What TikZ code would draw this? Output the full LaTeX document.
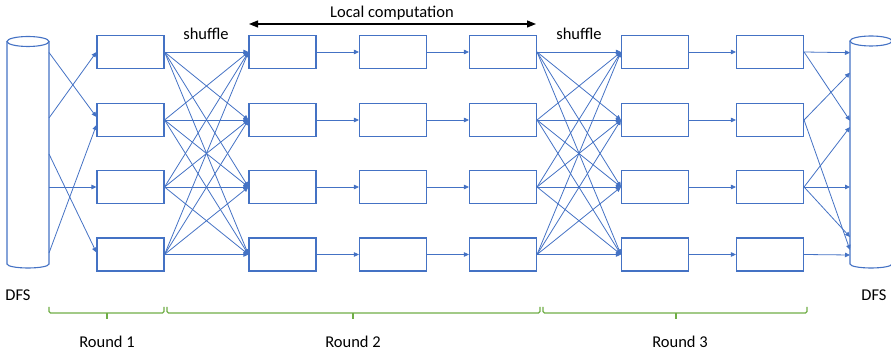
\documentclass[tikz,border=0pt]{standalone}
\usepackage{fontspec}
\setmainfont{Carlito}
\usetikzlibrary{arrows.meta}
\definecolor{lblue}{HTML}{4472C4}
\definecolor{lgreen}{HTML}{70AD47}
\begin{document}
\begin{tikzpicture}[x=1pt,y=-1pt,
  box/.style={draw=lblue, line width=1.1pt, minimum width=67pt, minimum height=33pt, inner sep=0pt},
  link/.style={draw=lblue, line width=0.8pt, -{Triangle[length=5pt,width=4.5pt]}},
  cyl/.style={draw=lblue, line width=1.1pt},
  lbl/.style={font=\fontsize{16.5}{18}\selectfont, text=black, inner sep=0pt},
  brace/.style={draw=lgreen, line width=1.3pt, rounded corners=1.5pt},
  span/.style={draw=black, line width=1.2pt, {Triangle[length=9pt,width=7pt]}-{Triangle[length=9pt,width=7pt]}}]
\useasboundingbox (0,0) rectangle (891,352);
\clip (0,0) rectangle (891,352);
% cylinders
\draw[cyl] (7,41.5) -- (7,264) arc[start angle=180, end angle=360, x radius=21pt, y radius=4pt] -- (49,41.5);
\draw[cyl] (28,41.5) ellipse [x radius=21pt, y radius=5pt];
\draw[cyl] (850,41) -- (850,264) arc[start angle=180, end angle=360, x radius=21pt, y radius=4pt] -- (892,41);
\draw[cyl] (871,41) ellipse [x radius=21pt, y radius=5pt];
\coordinate (L1) at (49,52.5);
\coordinate (L2) at (49,118);
\coordinate (L3) at (49,154);
\coordinate (L4) at (49,187);
\coordinate (L5) at (49,253);
\coordinate (R1) at (850,52.7);
\coordinate (R2) at (850,72.7);
\coordinate (R3) at (850,120.7);
\coordinate (R4) at (850,127);
\coordinate (R5) at (850,187);
\coordinate (R6) at (850,237);
\coordinate (R7) at (850,250);
\coordinate (R8) at (850,255);
% boxes
\foreach \c/\x in {1/130.5,2/282.5,3/393,4/503,5/655,6/770}{
  \foreach \r/\y in {1/52,2/120,3/187,4/254.5}{
    \node[box] (c\c r\r) at (\x,\y) {};
  }
}
% DFS -> round 1
\draw[link] (L1) -- ([yshift=3pt]c1r2.west);
\draw[link] (L2) -- (c1r1.west);
\draw[link] (L3) -- ([yshift=2pt]c1r4.west);
\draw[link] (L4) -- (c1r3.west);
\draw[link] (L5) -- ([yshift=-5pt]c1r2.west);
% shuffles
\foreach \s in {1,2,3,4}{
  \foreach \t in {1,2,3,4}{
    \draw[link] (c1r\s.east) -- (c2r\t.west);
    \draw[link] (c4r\s.east) -- (c5r\t.west);
  }
}
% local
\foreach \r in {1,2,3,4}{
  \draw[link] (c2r\r.east) -- (c3r\r.west);
  \draw[link] (c3r\r.east) -- (c4r\r.west);
  \draw[link] (c5r\r.east) -- (c6r\r.west);
}
% round 3 -> DFS
\draw[link] (c6r1.east) -- (R1);
\draw[link] (c6r1.east) -- (R3);
\draw[link] (c6r2.east) -- (R2);
\draw[link] (c6r2.east) -- (R7);
\draw[link] (c6r3.east) -- (R4);
\draw[link] (c6r3.east) -- (R5);
\draw[link] (c6r3.east) -- (R6);
\draw[link] (c6r4.east) -- (R8);
% labels
\node[lbl] (dfsl) at (18,295) {DFS};
\node[lbl] (dfsr) at (874,295) {DFS};
\node[lbl] (sh1) at (206,33.5) {shuffle};
\node[lbl] (sh2) at (579,33.5) {shuffle};
\node[lbl] (lc) at (392,13.5) {Local computation};
\coordinate (la) at (249,24);
\coordinate (lb) at (536,24);
\draw[span] (la) -- (lb);
% rounds
\draw[brace] (49,307) -- (49,313) -- (164,313) -- (164,307);
\draw[brace] (107,313) -- (107,319.5);
\draw[brace] (167,307) -- (167,313) -- (540,313) -- (540,307);
\draw[brace] (353,313) -- (353,319.5);
\draw[brace] (543,307) -- (543,313) -- (807,313) -- (807,307);
\draw[brace] (676,313) -- (676,319.5);
\node[lbl] (rd1) at (107,342) {Round 1};
\node[lbl] (rd2) at (353,342) {Round 2};
\node[lbl] (rd3) at (680,342) {Round 3};
\end{tikzpicture}
\end{document}
